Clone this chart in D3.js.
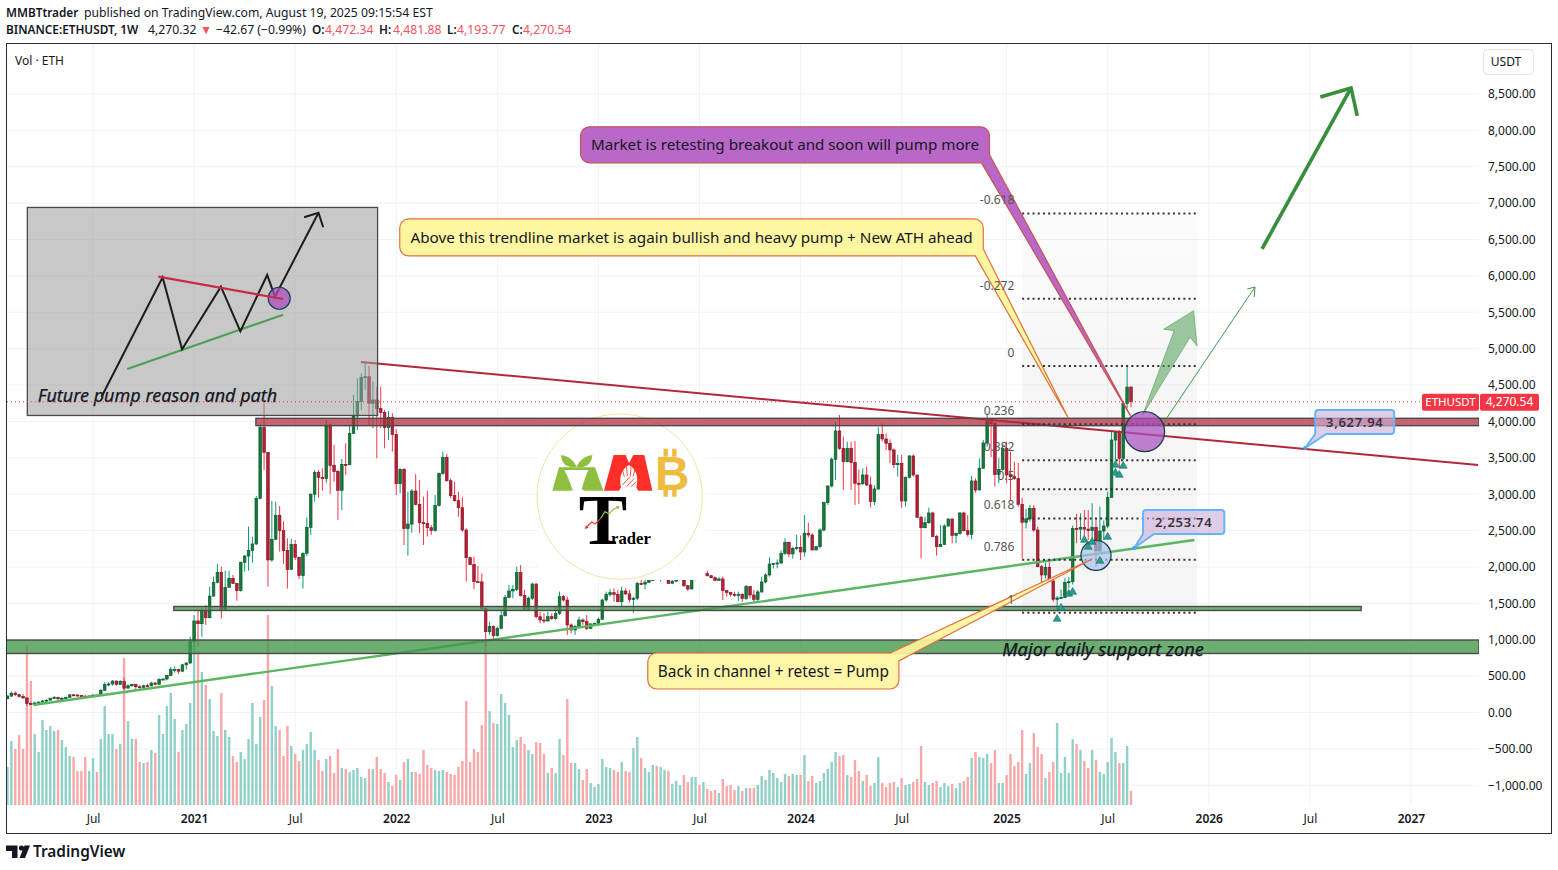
<!DOCTYPE html>
<html>
<head>
<meta charset="utf-8">
<script src="https://cdn.jsdelivr.net/npm/d3@7"></script>
<style>
  html, body { margin: 0; padding: 0; background: #fff; overflow: hidden; }
  text { font-family: "Noto Sans", sans-serif; fill: #131722; }
</style>
</head>
<body>
<svg id="chart" width="1558" height="870"></svg>
<script>
// weekly candles, first bar is the week of 2020-02-03; open of a bar = close of the bar before
const firstWeek = "2020-02-03"
const firstOpen = 189
const closes = [
  225,265,245,220,200,125,122,131,143,158,
  170,197,207,188,195,206,243,240,232,226,
  222,228,240,232,305,385,392,432,388,428,
  335,367,385,354,346,368,366,405,388,455,
  460,510,590,590,568,655,680,975,1258,1221,
  1400,1303,1600,1789,1926,1408,1720,1844,1775,1675,
  2064,2150,2228,2316,2943,3919,3576,2096,2380,2710,
  2500,2225,1968,2311,2133,1881,2188,2545,3000,3300,
  3232,3214,3951,3397,3310,3054,3410,3405,3837,4075,
  4272,4606,4615,4250,4295,4176,4125,3915,4057,3823,
  3145,3342,2527,2590,3044,2860,2609,2600,2540,2500,
  2847,3287,3507,3186,2980,2911,2815,2508,2128,2032,
  1798,1795,1432,1111,1184,1056,1157,1331,1583,1670,
  1693,1926,1606,1418,1570,1766,1317,1271,1258,1317,
  1290,1363,1592,1546,1203,1134,1180,1271,1249,1157,
  1217,1226,1281,1546,1624,1647,1624,1523,1670,1630,
  1555,1570,1775,1765,1790,1816,2120,1865,1875,1990,
  1775,1805,1830,1890,1743,1697,1880,1925,1865,1912,
  1880,1853,1817,1835,1675,1650,1625,1610,1625,1565,
  1730,1615,1555,1657,1794,1890,2041,2046,2055,2188,
  2339,2179,2256,2270,2206,2463,2440,2233,2279,2508,
  2884,3113,3480,3869,3631,3447,3631,3438,3150,3145,
  3264,3127,2900,3072,3823,3759,3700,3608,3406,3425,
  2907,3232,3525,3264,2683,2540,2609,2742,2417,2279,
  2311,2563,2659,2435,2463,2742,2499,2449,3182,3058,
  3356,3704,3997,3970,3273,3342,3630,3264,3240,3218,
  2861,2614,2660,2806,2508,2004,1890,1995,1807,1556,
  1574,1580,1788,1798,2530,2520,2545,2520,2500,2545,
  2220,2494,2563,2957,3745,3846,3493,4249,4472.34,4270.54
]
const highs = [
  235,288,290,250,253,200,145,150,150,172,
  180,200,228,215,215,218,250,255,250,240,
  235,233,250,245,325,415,415,445,440,445,
  480,390,395,395,375,380,395,420,415,470,
  470,515,625,635,600,670,690,1040,1340,1418,
  1432,1478,1730,1867,2041,2004,1950,1950,1890,1775,
  2073,2165,2554,2417,2976,3974,4295,3576,2907,2898,
  2838,2627,2394,2385,2371,2142,2200,2682,3012,3333,
  3333,3356,4020,3974,3677,3333,3484,3699,3960,4364,
  4593,4661,4810,4762,4547,4478,4478,4157,4144,4112,
  3896,3356,3356,3035,3072,3278,3195,2966,3049,2577,
  2989,3296,3585,3553,3218,3172,3035,2966,2531,2142,
  2142,2014,1913,1455,1248,1194,1180,1400,1615,1752,
  1752,2005,2027,1684,1592,1785,1775,1386,1363,1386,
  1363,1455,1661,1615,1592,1226,1203,1317,1294,1340,
  1226,1235,1303,1565,1661,1693,1707,1684,1730,1707,
  1684,1592,1798,1821,1821,1880,2140,2130,1960,2000,
  1880,1850,1860,1920,1890,1750,1900,1930,1970,2030,
  1950,1885,1870,1860,1870,1680,1660,1660,1661,1635,
  1752,1739,1684,1684,1867,1913,2133,2050,2105,2224,
  2394,2348,2279,2440,2431,2714,2609,2463,2288,2531,
  2898,3118,3507,3993,4089,3791,3722,3722,3732,3342,
  3356,3379,3241,3127,3919,3974,3837,3754,3631,3539,
  3539,3241,3539,3548,3264,2701,2692,2815,2760,2440,
  2577,2586,2669,2669,2472,2751,2760,2714,3251,3218,
  3493,3745,4089,4000,3997,3500,3690,3722,3585,3447,
  3430,2950,2800,2852,2850,2550,2030,2060,2096,1830,
  1600,1690,1844,1858,2570,2728,2737,2783,2783,2875,
  2669,2829,2640,3035,3860,3860,3883,4272,4776,4481.88
]
const lows = [
  185,220,225,205,190,90,105,120,125,150,
  145,168,190,165,178,190,200,225,220,220,
  215,210,225,220,230,300,360,370,370,375,
  310,330,355,310,330,340,345,360,370,385,
  440,440,500,550,530,560,590,670,905,905,
  1042,1203,1294,1592,1775,1290,1400,1720,1766,1537,
  1660,1936,1950,2059,2302,2930,3333,1730,2073,2371,
  2211,2041,1702,1959,2096,1835,1702,2151,2440,2898,
  2953,3049,3150,3003,3172,2646,2783,3264,3402,3828,
  3883,4157,4432,3951,3906,3493,3906,3631,3745,3585,
  2989,3012,2302,2156,2472,2847,2463,2302,2417,2440,
  2485,2829,3264,3172,2943,2898,2691,2485,1798,2027,
  1693,1785,1418,905,1065,1006,1042,1143,1317,1569,
  1569,1670,1592,1409,1409,1546,1294,1226,1226,1249,
  1271,1271,1340,1523,1065,1088,1065,1157,1203,1134,
  1157,1189,1203,1271,1523,1592,1523,1523,1464,1615,
  1514,1372,1546,1752,1693,1785,1810,1820,1800,1830,
  1770,1780,1790,1815,1725,1670,1700,1815,1825,1830,
  1870,1845,1810,1815,1546,1592,1592,1590,1533,1520,
  1546,1565,1514,1523,1647,1775,1867,1982,1982,2041,
  2165,2133,2114,2233,2096,2142,2408,2233,2233,2256,
  2485,2852,3095,3196,3608,3058,3438,3058,2852,2866,
  3127,3113,2820,2852,3058,3722,3608,3425,3356,3241,
  2815,2829,3218,3241,2669,2119,2531,2591,2408,2156,
  2279,2302,2554,2325,2325,2444,2485,2417,2380,3021,
  3058,3356,3650,3510,3104,3150,3320,3150,2920,3196,
  2829,2119,2530,2623,2485,1995,1775,1840,1798,1523,
  1385,1560,1570,1707,1760,2325,2371,2417,2371,2371,
  2004,2188,2371,2531,2950,3470,3355,3470,4180,4193.77
]
// volume in 100k ETH
const volumes = [
  38,64,56,70,56,159,124,71,53,85,
  75,79,74,75,65,58,49,48,34,34,
  48,34,47,33,66,99,71,71,56,61,
  147,84,66,66,43,42,43,55,52,90,
  71,99,112,86,53,75,81,102,160,154,
  133,120,106,74,69,112,75,68,49,43,
  53,46,66,102,61,88,105,190,119,79,
  75,49,79,59,51,44,55,61,73,55,
  45,34,46,49,32,56,37,36,33,35,
  37,28,27,36,36,48,36,32,23,19,
  30,25,43,46,33,33,31,55,40,37,
  35,34,35,33,31,30,38,44,104,43,
  56,53,80,165,94,82,81,111,102,90,
  58,65,68,61,55,51,63,62,51,32,
  37,32,66,50,106,42,42,36,25,36,
  22,18,21,46,38,37,35,33,43,34,
  33,57,68,47,37,33,40,39,38,35,
  34,21,24,20,30,23,28,28,20,23,
  16,14,15,12,26,19,20,15,19,14,
  17,17,17,20,29,25,35,32,27,23,
  31,29,31,30,30,50,24,29,22,24,
  32,36,43,53,49,50,30,28,45,34,
  24,30,19,22,48,22,18,22,23,18,
  27,20,21,23,26,59,23,20,22,24,
  18,22,19,21,17,22,24,28,47,53,
  48,47,51,42,55,22,22,30,51,39,
  43,75,31,42,72,58,51,27,33,43,
  82,32,48,32,66,61,55,44,37,55,
  45,33,31,43,67,53,42,42,59,14
]

const priceTicks = [-1000,-500,0,500,1000,1500,2000,2500,3000,3500,4000,4500,5000,5500,6000,6500,7000,7500,8000,8500]
const timeTicks = ["2020-07-06","2021-01-04","2021-07-05","2022-01-03","2022-07-04","2023-01-02","2023-07-03","2024-01-01","2024-07-01","2025-01-06","2025-07-07","2026-01-05","2026-07-06","2027-01-04"]
const timeLabels = ["Jul","2021","Jul","2022","Jul","2023","Jul","2024","Jul","2025","Jul","2026","Jul","2027"]

// fib retracement, drawn between these two prices
const fibHigh = 4763, fibLow = 1372
const fibLevels = [-0.618,-0.272,0,0.236,0.382,0.5,0.618,0.786,1]
const fibLabels = ["-0.618","-0.272","0","0.236","0.382","0.5","0.618","0.786","1"]

// the triangles under the bars: week number, price
const signalWeeks = [270,271,273,274,277,278,279,281,283,285,285,286,287]
const signalPrices = [1285,1436,1629,1656,2371,2275,2343,2082,2412,3402,3292,3264,3388]

// drawings are anchored like on the chart: [week number, price]
const redZone = { from: 63.9, top: 4043, bottom: 3942 }
const thinZone = { from: 42.8, to: 348.2, top: 1457, bottom: 1402 }
const majorZone = { from: -0.4, top: 996, bottom: 811 }
const resistance = [[90.9,4817],[378.3,3402]]
const support = [[6.6,103],[305.3,2371]]
const sketchBox = [[5.1,6941],[95.2,4082]]
const sketchPath = [[24.2,4340],[39.9,5981],[44.9,4992],[54.9,5852],[59.9,5239],[66.8,6013],[68.8,5715],[80,6869]]
const sketchHead = [[76.3,6806],[80,6869],[81.2,6669]]
const sketchRed = [[38.8,5990],[70.9,5683]]
const sketchGreen = [[30.8,4721],[70.9,5467]]
const sketchDot = [69.9,5693]
const bigArrow = [[322.7,6370],[345.6,8583]]
const bigHead = [[337.7,8459],[345.6,8583],[347.2,8198]]
const thinArrow = [[297,3951],[320.9,5848]]
const thinHead = [[318.9,5820],[320.9,5848],[320.7,5711]]
const wideArrow = [[292,4089],[300.1,5247],[297.4,5267],[305.1,5522],[306,5037],[304.2,5157]]
const purpleDot = [292.5,3860]
const blueDot = [280,2160]

const svg = d3.select("#chart")
const WEEK = 7 * 24 * 3600 * 1000
const t0 = Date.parse(firstWeek)
const x = d3.scaleUtc().domain([new Date(t0), new Date(t0 + 289 * WEEK)]).range([7.5, 1131])
const y = d3.scaleLinear().domain([0, 8500]).range([712.5, 94])
const yVol = d3.scaleLinear().domain([0, 100]).range([805, 705])
const xAt = w => x(new Date(t0 + w * WEEK))
const pt = d => [xAt(d[0]), y(d[1])]
const line = d3.line().x(d => xAt(d[0])).y(d => y(d[1]))

const bars = closes.map((c, i) => ({
  i, c, o: i ? closes[i - 1] : firstOpen, h: highs[i], l: lows[i], v: volumes[i]
}))
const isUp = d => d.c >= d.o

const defs = svg.append("defs")
defs.append("clipPath").attr("id", "plot").append("rect")
  .attr("x", 7).attr("y", 44).attr("width", 1472).attr("height", 789)
const fibFade = defs.append("linearGradient").attr("id", "fibFade").attr("x1", 0).attr("x2", 0).attr("y1", 0).attr("y2", 1)
fibFade.append("stop").attr("offset", 0).attr("stop-color", "#808080").attr("stop-opacity", 0.03)
fibFade.append("stop").attr("offset", 0.4).attr("stop-color", "#808080").attr("stop-opacity", 0.07)
fibFade.append("stop").attr("offset", 1).attr("stop-color", "#808080").attr("stop-opacity", 0.08)

// grid
const grid = svg.append("g")
grid.selectAll(".h").data(priceTicks).enter().append("line")
  .attr("x1", 7).attr("x2", 1479).attr("y1", d => y(d)).attr("y2", d => y(d))
  .attr("stroke", "#f0f2f5")
grid.selectAll(".v").data(timeTicks).enter().append("line")
  .attr("x1", d => x(new Date(d))).attr("x2", d => x(new Date(d))).attr("y1", 44).attr("y2", 805)
  .attr("stroke", "#f0f2f5")

const plot = svg.append("g").attr("clip-path", "url(#plot)")

// fib background goes under the candles
plot.append("rect")
  .attr("x", xAt(261)).attr("width", xAt(306) - xAt(261))
  .attr("y", y(fibHigh + 0.618 * (fibHigh - fibLow)))
  .attr("height", y(fibLow) - y(fibHigh + 0.618 * (fibHigh - fibLow)))
  .attr("fill", "url(#fibFade)")

// volume
plot.selectAll(".vol").data(bars).enter().append("rect")
  .attr("x", d => xAt(d.i) - 1.2).attr("width", 2.4)
  .attr("y", d => yVol(d.v)).attr("height", d => yVol(0) - yVol(d.v))
  .attr("fill", d => isUp(d) ? "#8fd0c8" : "#f8a8a8")

// candles
plot.selectAll(".wick").data(bars).enter().append("line")
  .attr("x1", d => xAt(d.i)).attr("x2", d => xAt(d.i))
  .attr("y1", d => y(d.h)).attr("y2", d => y(d.l))
  .attr("stroke", d => isUp(d) ? "#089981" : "#f23645")
plot.selectAll(".body").data(bars).enter().append("rect")
  .attr("x", d => xAt(d.i) - 1.3).attr("width", 2.6)
  .attr("y", d => y(Math.max(d.o, d.c)))
  .attr("height", d => Math.max(1, Math.abs(y(d.o) - y(d.c))))
  .attr("fill", d => isUp(d) ? "#16793a" : "#bd1d36")
  .attr("stroke", d => isUp(d) ? "#0c5c2c" : "#7f1d2a").attr("stroke-width", 0.7)

// logo, it is a picture sitting on the candles
const logo = svg.append("g").attr("transform", "translate(535,410) scale(0.3333)")
logo.append("rect").attr("x", 9).attr("y", 9).attr("width", 501).attr("height", 501).attr("fill", "#fff")
logo.append("circle").attr("cx", 254).attr("cy", 260).attr("r", 248).attr("fill", "none").attr("stroke", "#efe3a6").attr("stroke-width", 3)
logo.append("path").attr("fill", "#8fbf3f").attr("d", "M52,242 L72,172 L180,172 L205,242 L150,242 L128,232 L108,242 Z")
logo.append("path").attr("fill", "#8fbf3f").attr("d", "M78,135 C110,140 120,160 125,170 C100,175 80,165 78,135 Z M172,135 C140,140 130,160 125,170 C150,175 170,165 172,135 Z")
logo.append("path").attr("fill", "#fff").attr("d", "M88,180 L160,180 L150,205 L140,238 L112,238 L100,205 Z")
logo.append("path").attr("fill", "#ff2e26").attr("d", "M207,242 L236,135 L272,135 L282,160 L295,135 L328,135 L352,242 L310,242 L300,225 L262,225 L252,242 Z")
logo.append("path").attr("fill", "#fff").attr("d", "M258,232 C250,200 262,175 282,165 C302,175 312,200 304,232 Z")
logo.append("path").attr("fill", "none").attr("stroke", "#ff2e26").attr("stroke-width", 2.5).attr("d", "M262,178 L268,200 M275,170 L277,198 M288,170 L286,198 M300,178 L294,200 M262,225 L285,200 M275,230 L298,205 M288,230 L304,215")
logo.append("text").attr("x", 360).attr("y", 240).attr("font-size", 143).attr("font-weight", 700).style("font-family", "Liberation Sans").style("fill", "#eebc41").text("B")
logo.append("path").attr("stroke", "#eebc41").attr("stroke-width", 13).attr("d", "M392,116 V140 M418,116 V140 M392,236 V260 M418,236 V260")
const word = logo.append("text").attr("x", 131).attr("y", 402).attr("font-weight", 700).style("font-family", "Liberation Serif").style("fill", "#000")
word.append("tspan").attr("font-size", 218).text("T")
word.append("tspan").attr("font-size", 50).attr("dx", -48).text("rader")
logo.append("path").attr("fill", "none").attr("stroke", "#ee3b2f").attr("stroke-width", 3.5).attr("d", "M152,354 L170,336 L180,342 L197,325")
logo.append("path").attr("fill", "none").attr("stroke", "#8fbf3f").attr("stroke-width", 3.5).attr("d", "M197,325 L210,305 L222,312 L235,298 L250,292")
logo.append("path").attr("fill", "#8fbf3f").attr("d", "M254,288 L242,289 L250,298 Z")
logo.append("path").attr("fill", "#ee3b2f").attr("d", "M149,357 L161,353 L153,345 Z")

const draw = svg.append("g").attr("clip-path", "url(#plot)")

// trend lines, the zones lie over them
draw.append("path").attr("d", line(support)).attr("stroke", "#5cb562").attr("stroke-width", 2.4).attr("fill", "none")
draw.append("path").attr("d", line(resistance)).attr("stroke", "#b2283a").attr("stroke-width", 2).attr("fill", "none")

// zones
function zone(sel, z, color, opacity) {
  sel.append("rect")
    .attr("x", xAt(z.from)).attr("width", (z.to === undefined ? 1479 : xAt(z.to)) - xAt(z.from))
    .attr("y", y(z.top)).attr("height", y(z.bottom) - y(z.top))
    .attr("fill", color).attr("fill-opacity", opacity)
    .attr("stroke", "#4a4a4a").attr("stroke-width", 1.4)
}
zone(draw, majorZone, "#43964a", 0.78)
zone(draw, thinZone, "#43964a", 0.75)
zone(draw, redZone, "#b02a3a", 0.72)

// sketch box with the expected path
const [sa, sb] = [pt(sketchBox[0]), pt(sketchBox[1])]
draw.append("rect").attr("x", sa[0]).attr("y", sa[1]).attr("width", sb[0] - sa[0]).attr("height", sb[1] - sa[1])
  .attr("fill", "#9a9a9a").attr("fill-opacity", 0.55).attr("stroke", "#4a4a4a").attr("stroke-width", 1.3)
draw.append("path").attr("d", line(sketchGreen)).attr("stroke", "#4f9e55").attr("stroke-width", 2.2).attr("fill", "none")
draw.append("path").attr("d", line(sketchPath)).attr("stroke", "#1c1c1c").attr("stroke-width", 2).attr("fill", "none")
draw.append("path").attr("d", line(sketchHead)).attr("stroke", "#1c1c1c").attr("stroke-width", 2).attr("fill", "none")
draw.append("circle").attr("cx", pt(sketchDot)[0]).attr("cy", pt(sketchDot)[1]).attr("r", 11)
  .attr("fill", "#ab4fc0").attr("fill-opacity", 0.75).attr("stroke", "#17424c").attr("stroke-width", 1.2)
draw.append("path").attr("d", line(sketchRed)).attr("stroke", "#c72c41").attr("stroke-width", 2.2).attr("fill", "none")

// fib levels
const fibPrice = l => fibHigh - l * (fibHigh - fibLow)
draw.append("g").selectAll("line").data(fibLevels).enter().append("line")
  .attr("x1", xAt(261)).attr("x2", xAt(306))
  .attr("y1", d => y(fibPrice(d))).attr("y2", d => y(fibPrice(d)))
  .attr("stroke", "#333").attr("stroke-width", 2).attr("stroke-dasharray", "2,3.2")

// arrows
draw.append("path").attr("d", d3.line()(wideArrow.map(pt)) + "Z")
  .attr("fill", "#4f9e55").attr("fill-opacity", 0.55).attr("stroke", "#4f9e55").attr("stroke-opacity", 0.6)
draw.append("path").attr("d", line(thinArrow)).attr("stroke", "#3f9a48").attr("fill", "none")
draw.append("path").attr("d", line(thinHead)).attr("stroke", "#3f9a48").attr("fill", "none")
draw.append("path").attr("d", line(bigArrow)).attr("stroke", "#388e3c").attr("stroke-width", 3.6).attr("fill", "none")
draw.append("path").attr("d", line(bigHead)).attr("stroke", "#388e3c").attr("stroke-width", 3.6).attr("fill", "none")

// circles on the retests
draw.append("circle").attr("cx", pt(blueDot)[0]).attr("cy", pt(blueDot)[1]).attr("r", 15)
  .attr("fill", "#a9bff0").attr("fill-opacity", 0.68).attr("stroke", "#17424c").attr("stroke-width", 1.3)

// signals
draw.selectAll(".sig").data(signalWeeks).enter().append("path")
  .attr("d", d3.symbol(d3.symbolTriangle, 26))
  .attr("transform", (d, i) => `translate(${xAt(d)},${y(signalPrices[i])})`)
  .attr("fill", "#26a08e").attr("stroke", "#136a60").attr("stroke-width", 0.6)

draw.append("circle").attr("cx", pt(purpleDot)[0]).attr("cy", pt(purpleDot)[1]).attr("r", 20)
  .attr("fill", "#ab4fc0").attr("fill-opacity", 0.72).attr("stroke", "#17424c").attr("stroke-width", 1.3)

// callouts: polygon with rounded corners, r is given per corner
function bubble(points, fill, stroke, opacity, strokeWidth) {
  const p = d3.path()
  const n = points.length
  const mid = (a, b) => [(a[0] + b[0]) / 2, (a[1] + b[1]) / 2]
  const s = mid(points[n - 1], points[0])
  p.moveTo(s[0], s[1])
  points.forEach((c, i) => {
    const next = points[(i + 1) % n]
    if (c[2]) p.arcTo(c[0], c[1], next[0], next[1], c[2])
    else p.lineTo(c[0], c[1])
  })
  p.closePath()
  draw.append("path").attr("d", p.toString()).attr("fill", fill).attr("fill-opacity", opacity)
    .attr("stroke", stroke).attr("stroke-width", strokeWidth || 1.2)
}
function labelled(tl, br, r, tailFn, fill, stroke, opacity, label, size, strokeWidth) {
  const [x0, y0] = pt(tl), [x1, y1] = pt(br)
  bubble(tailFn(x0, y0, x1, y1, r), fill, stroke, opacity, strokeWidth)
  return draw.append("text").attr("x", (x0 + x1) / 2).attr("y", (y0 + y1) / 2 + size * 0.36)
    .attr("text-anchor", "middle").attr("font-size", size).text(label)
}

const purpleTip = pt([289, 4065])
labelled([147.4, 8049], [252.6, 7554], 9, (x0, y0, x1, y1, r) => [
  [x0, y0, r], [x1, y0, r], [x1, y1 - 8, 0], [purpleTip[0], purpleTip[1], 0], [x1 - 8, y1, 0], [x0, y1, r]
], "#ba68c8", "#c8504f", 1, "Market is retesting breakout and soon will pump more", 15.2)

const yellowTip = pt([272.9, 4043])
labelled([100.9, 6783], [251, 6274], 9, (x0, y0, x1, y1, r) => [
  [x0, y0, r], [x1, y0, r], [x1, y1 - 7, 0], [yellowTip[0], yellowTip[1], 0], [x1 - 8, y1, 0], [x0, y1, r]
], "#fff59d", "#e0703c", 0.95, "Above this trendline market is again bullish and heavy pump + New ATH ahead", 15.25)

const channelTip = pt([279, 2110])
labelled([164.7, 818], [229.3, 323], 9, (x0, y0, x1, y1, r) => [
  [x0, y0, r], [x1 - 8.5, y0, 0], [channelTip[0], channelTip[1], 0], [x1, y0 + 8, 0], [x1, y1, r], [x0, y1, r]
], "#fff59d", "#e0703c", 0.9, "Back in channel + retest = Pump", 15.4)

// the two price notes with a blue frame
function priceNote(tl, br, tipAt, label) {
  const tip = pt(tipAt)
  labelled(tl, br, 3, (x0, y0, x1, y1, r) => [
    [x0, y0, r], [x1, y0, r], [x1, y1, r], [x0 + 11, y1, 0], [tip[0], tip[1], 0], [x0, y1, r]
  ], "#cdb0dc", "#64b5f6", 0.62, label, 13, 2)
    .attr("font-weight", 600).attr("letter-spacing", 0.7).style("fill", "#3a3440")
  draw.append("circle").attr("cx", tip[0]).attr("cy", tip[1]).attr("r", 2).attr("fill", "#42a5f5")
}
priceNote([336.4, 4157], [356.7, 3828], [333.8, 3635], "3,627.94")
priceNote([292.1, 2783], [313, 2453], [289.8, 2261], "2,253.74")

// fib labels stay readable over the callout tails
draw.append("g").selectAll("text").data(fibLevels).enter().append("text")
  .attr("x", xAt(259)).attr("y", d => y(fibPrice(d)) - 9)
  .attr("text-anchor", "end").attr("font-size", 12).style("fill", "#555")
  .text((d, i) => fibLabels[i])

// texts on the chart
draw.append("text").attr("x", xAt(7.8)).attr("y", y(4268)).attr("font-size", 18).attr("font-style", "italic")
  .attr("stroke", "#131722").attr("stroke-width", 0.25).text("Future pump reason and path")
draw.append("text").attr("x", xAt(255.9)).attr("y", y(777)).attr("font-size", 18.2).attr("font-style", "italic")
  .attr("stroke", "#131722").attr("stroke-width", 0.25).text("Major daily support zone")

// last price line
const lastClose = closes[closes.length - 1]
svg.append("line").attr("x1", 7).attr("x2", 1422).attr("y1", y(lastClose)).attr("y2", y(lastClose))
  .attr("stroke", "#f23645").attr("stroke-dasharray", "1,3")

// axes
const fmt = d3.format(",.2f")
const yAxis = svg.append("g").attr("transform", "translate(1482,0)")
  .call(d3.axisRight(y).tickValues(priceTicks).tickSize(0).tickPadding(6).tickFormat(d => fmt(d).replace("-", "\u2212")))
yAxis.select(".domain").remove()
yAxis.selectAll("text").attr("font-size", 12).style("font-family", "Noto Sans").style("fill", "#131722")

const xAxis = svg.append("g").attr("transform", "translate(0,805)")
  .call(d3.axisBottom(x).tickValues(timeTicks.map(d => new Date(d))).tickSize(0).tickPadding(9).tickFormat((d, i) => timeLabels[i]))
xAxis.select(".domain").remove()
xAxis.selectAll("text").attr("font-size", 12).style("font-family", "Noto Sans").style("fill", "#131722")
  .attr("font-weight", (d, i) => timeLabels[i] === "Jul" ? 400 : 600)

// price tag
const tagY = y(lastClose)
svg.append("rect").attr("x", 1422).attr("y", tagY - 8).attr("width", 57).attr("height", 17).attr("rx", 2).attr("fill", "#f23645")
svg.append("rect").attr("x", 1480).attr("y", tagY - 8).attr("width", 59).attr("height", 17).attr("rx", 2).attr("fill", "#f23645")
svg.append("text").attr("x", 1450.5).attr("y", tagY + 4.5).attr("text-anchor", "middle").attr("font-size", 11.5).style("fill", "#fff").text("ETHUSDT")
svg.append("text").attr("x", 1509.5).attr("y", tagY + 4.5).attr("text-anchor", "middle").attr("font-size", 12).style("fill", "#fff").text(fmt(lastClose))

// frame
svg.append("rect").attr("x", 6.5).attr("y", 43.5).attr("width", 1545).attr("height", 790)
  .attr("fill", "none").attr("stroke", "#2a2e39")
svg.append("rect").attr("x", 1483.5).attr("y", 49.5).attr("width", 50).attr("height", 25).attr("rx", 4)
  .attr("fill", "#fff").attr("stroke", "#e0e3eb")
svg.append("text").attr("x", 1506).attr("y", 65.5).attr("text-anchor", "middle").attr("font-size", 12).text("USDT")
svg.append("text").attr("x", 15).attr("y", 65).attr("font-size", 12).text("Vol \u00b7 ETH")

// header
const head = svg.append("g")
const put = (px, py, label, color, weight) => head.append("text").attr("x", px).attr("y", py).attr("font-size", weight ? 11.8 : 12.2)
  .attr("font-weight", weight || 400).style("fill", color || "#131722").text(label)
put(6, 17, "MMBTtrader", "#131722", 600)
put(84, 17, "published on TradingView.com, August 19, 2025 09:15:54 EST")
put(6, 34, "BINANCE:ETHUSDT, 1W", "#131722", 600)
put(148, 34, "4,270.32")
put(200, 34, "\u25bc", "#f7525f")
put(216, 34, "\u221242.67 (\u22120.99%)")
put(312, 34, "O:", "#131722", 600)
put(325, 34, "4,472.34", "#f7525f")
put(379, 34, "H:", "#131722", 600)
put(393, 34, "4,481.88", "#f7525f")
put(447, 34, "L:", "#131722", 600)
put(457, 34, "4,193.77", "#f7525f")
put(512, 34, "C:", "#131722", 600)
put(523, 34, "4,270.54", "#f7525f")

// tradingview mark
const mark = svg.append("g").attr("fill", "#131722")
mark.append("path").attr("d", "M6,845.5 H17.5 V858 H12 V851 H6 Z")
mark.append("circle").attr("cx", 21.5).attr("cy", 848).attr("r", 2.6)
mark.append("path").attr("d", "M24.5,845.5 H30 L25,858 H19.5 Z")
svg.append("text").attr("x", 33).attr("y", 857).attr("font-size", 15.4).attr("font-weight", 600).text("TradingView")
</script>
</body>
</html>
